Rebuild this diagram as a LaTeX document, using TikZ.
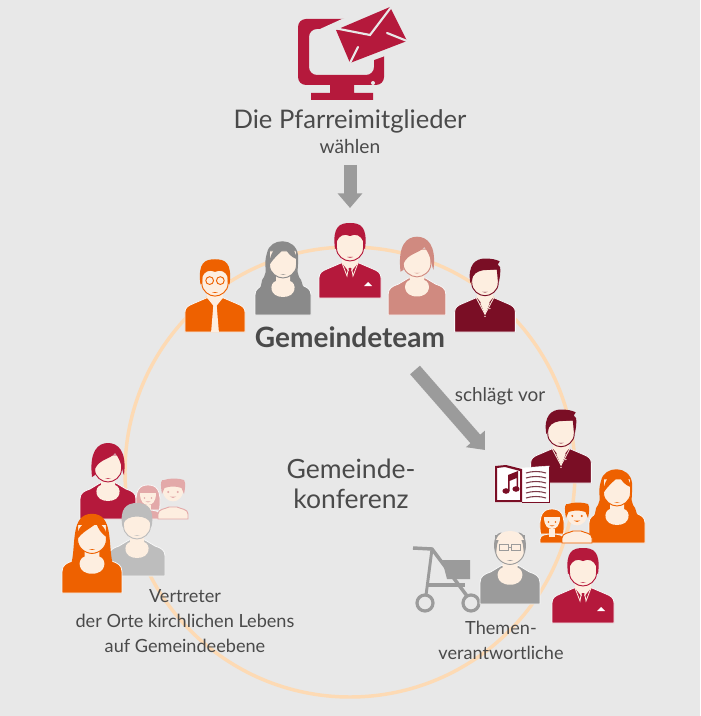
\documentclass[tikz,border=0pt]{standalone}
\usepackage{fontspec}
\setmainfont{Lato}
\usetikzlibrary{arrows.meta}
\definecolor{backc}{HTML}{E8E8E8}
\definecolor{ringc}{HTML}{FDDAB4}
\definecolor{crimsonc}{HTML}{B5193C}
\definecolor{orangec}{HTML}{EE6100}
\definecolor{darkredc}{HTML}{7A0E25}
\definecolor{grayc}{HTML}{8A8A8A}
\definecolor{midgrayc}{HTML}{9B9B9B}
\definecolor{lightgrayc}{HTML}{BDBDBD}
\definecolor{pinkc}{HTML}{D08A80}
\definecolor{palec}{HTML}{E3A9A9}
\definecolor{skinc}{HTML}{FDEEE0}
\definecolor{inkc}{HTML}{4A4A4A}
\tikzset{
  bust/.style={fill=bustc,draw=white!70!backc,line width=0.6pt,line join=round},
  skin/.style={fill=skinc,draw=bustc,line width=0.7pt},
  fineline/.style={draw=skinc,line width=0.6pt},
  bigarrow/.style={draw=midgrayc,line width=9.75pt,-{Triangle[width=18pt,length=11pt]}},
  label/.style={text=inkc,font=\fontsize{13.6}{18.7}\selectfont,align=center},
}
% shirts
\newcommand{\manshirt}{\path[bust] (-31,0) -- (-31,-20) .. controls (-31,-25) and (-28,-27) .. (-23,-29) -- (-9,-35) -- (9,-35) -- (23,-29) .. controls (28,-27) and (31,-25) .. (31,-20) -- (31,0) -- cycle;}
\newcommand{\womanshirt}{\path[bust] (-28,0) -- (-28,-20) .. controls (-28,-26) and (-24,-28) .. (-18,-30) -- (-8,-36) -- (8,-36) -- (18,-30) .. controls (24,-28) and (28,-26) .. (28,-20) -- (28,0) -- cycle;}
% faces
\newcommand{\manface}{\path[skin] (-13.5,-64) -- (-13.5,-50) .. controls (-13.5,-42) and (-6,-37) .. (0,-37) .. controls (6,-37) and (13.5,-42) .. (13.5,-50) -- (13.5,-64) -- cycle;
  \fill[bustc] (-3,-41) .. controls (-1,-40) and (1,-40) .. (3,-41) -- cycle;}
\newcommand{\roundneck}{\fill[skinc] (-7,-42) -- (-7,-34) .. controls (-14,-32) and (-14,-18) .. (0,-18) .. controls (14,-18) and (14,-32) .. (7,-34) -- (7,-42) -- cycle;}
\newcommand{\vneck}{\fill[skinc] (-8,-42) -- (-8,-35) -- (0,-25) -- (8,-35) -- (8,-42) -- cycle;}
% hair
\newcommand{\hairshort}{\path[fill=bustc] (-15,-49) .. controls (-18,-72) and (-10,-75) .. (0,-75) .. controls (10,-75) and (18,-72) .. (15,-49) -- (13.5,-50) -- (13,-57) .. controls (11,-62) and (6,-65) .. (0,-62) .. controls (-6,-65) and (-11,-62) .. (-13,-57) -- (-13.5,-50) -- cycle;}
\newcommand{\hairspiky}{\path[fill=bustc] (-15,-50) .. controls (-18,-68) and (-10,-75) .. (0,-75) .. controls (6,-75) and (12,-74) .. (15,-72) -- (13,-69) -- (15.5,-66) .. controls (16,-60) and (15,-55) .. (14,-50) -- (13,-54) -- (12,-64) -- (-2,-63) .. controls (-8,-62) and (-13,-59) .. (-13.5,-52) -- cycle;}
\newcommand{\hairbob}{\path[fill=bustc] (-16,-42) .. controls (-19,-68) and (-10,-76) .. (0,-76) .. controls (10,-76) and (19,-68) .. (16,-44) .. controls (14,-47) and (14,-58) .. (7,-66) .. controls (3,-60) and (-9,-60) .. (-13,-50) -- (-13,-44) -- cycle;}
\newcommand{\hairlong}{\path[fill=bustc] (-27,-14) .. controls (-24,-20) and (-28,-22) .. (-24,-26) .. controls (-20,-30) and (-23,-34) .. (-19,-38) .. controls (-15,-44) and (-20,-50) .. (-16,-62) .. controls (-13,-78) and (13,-78) .. (15,-60) .. controls (16,-50) and (13,-44) .. (16,-38) .. controls (20,-34) and (18,-30) .. (22,-26) .. controls (26,-22) and (24,-20) .. (27,-14) -- cycle;}
\newcommand{\hairlongfront}{\path[fill=bustc] (-13.5,-50) .. controls (-14,-74) and (12,-76) .. (13.5,-56) .. controls (8,-58) and (4,-62) .. (2,-68) .. controls (-2,-62) and (-9,-58) .. (-13.5,-50) -- cycle;}
\newcommand{\hairstraight}{\path[fill=bustc] (-19,-29) .. controls (-15,-46) and (-20,-74) .. (0,-74) .. controls (20,-74) and (15,-46) .. (19,-29) -- (10,-22) -- (-10,-22) -- cycle;}
\newcommand{\hairstraightfront}{\path[fill=bustc] (-14,-50) .. controls (-15,-72) and (13,-72) .. (14,-52) .. controls (8,-56) and (6,-60) .. (4,-65) .. controls (-2,-60) and (-8,-58) .. (-14,-50) -- cycle;}
% man and woman, at the middle of their base
\newcommand{\personman}[6]{\begin{scope}[shift={(#1,#2)},scale=#3]\colorlet{bustc}{#4}
  \manshirt#5\vneck\manface#6\end{scope}}
\newcommand{\personwoman}[6]{\begin{scope}[shift={(#1,#2)},scale=#3]\colorlet{bustc}{#4}
  \womanshirt#5\roundneck\manface#6\end{scope}}
% details on the shirts
\newcommand{\suitdetail}{\hairshort\fill[bustc] (-2,-30) -- (2,-30) -- (1,-27) -- (2.5,-15) -- (0,-12) -- (-2.5,-15) -- (-1,-27) -- cycle;
  \draw[fineline] (-8,-35) -- (-3,-22) -- (-1.5,-31); \draw[fineline] (8,-35) -- (3,-22) -- (1.5,-31);
  \fill[white] (14,-12) -- (18,-16) -- (22,-12) -- cycle;}
\newcommand{\glassdetail}{\hairshort\fill[skinc] (-1.5,-30) -- (1.5,-30) -- (4,0) -- (-4,0) -- cycle;
  \draw[bustc,line width=0.7pt] (-5.5,-53) circle (4) (5.5,-53) circle (4);}
\newcommand{\polodetail}{\hairspiky\fill[skinc] (-5,-30) -- (0,-18) -- (5,-30) -- cycle;
  \draw[fineline] (-9,-35) -- (0,-18) -- (9,-35);
  \fill[skinc] (0,-16) circle (0.8) (5,-24) circle (0.8);}
\newcommand{\baldhair}{\fill[bustc] (-14,-48) .. controls (-17,-60) and (-12,-67) .. (-8,-67) -- (-12,-56) -- (-13,-48) -- cycle;
  \fill[bustc] (14,-48) .. controls (17,-60) and (12,-67) .. (8,-67) -- (12,-56) -- (13,-48) -- cycle;
  \fill[skinc] (-13,-60) .. controls (-10,-71) and (10,-71) .. (13,-60) -- cycle;
  \draw[bustc,line width=0.8pt] (-10,-56) rectangle (-1.5,-50) (1.5,-56) rectangle (10,-50) (-1.5,-53) -- (1.5,-53);}
\newcommand{\greyhair}{\path[fill=bustc] (-14.5,-49) .. controls (-18,-68) and (-10,-73) .. (0,-73) .. controls (10,-73) and (18,-68) .. (14.5,-49) -- (13.5,-52) .. controls (12,-62) and (-12,-62) .. (-13.5,-52) -- cycle;}
% child faces and children, at the middle of their base
\newcommand{\kidface}[2]{\begin{scope}[shift={(0,#1)},scale=#2]
  \fill[skinc] (-8,-8) .. controls (-8,1) and (-4,4) .. (0,4) .. controls (4,4) and (8,1) .. (8,-8) -- cycle;
  \fill[bustc] (-3.5,-3) circle (0.8) (3.5,-3) circle (0.8) (-2.5,0.4) .. controls (-1,1.8) and (1,1.8) .. (2.5,0.4) -- cycle;\end{scope}}
\newcommand{\girl}[4]{\begin{scope}[shift={(#1,#2)},scale=#3]\colorlet{bustc}{#4}
  \path[bust] (-11.5,-9) .. controls (-14,-30) and (-8,-34) .. (0,-34) .. controls (8,-34) and (14,-30) .. (11.5,-9) -- cycle;
  \path[bust] (-12,0) -- (-12,-4) .. controls (-12,-8) and (-6,-9) .. (0,-9) .. controls (6,-9) and (12,-8) .. (12,-4) -- (12,0) -- cycle;
  \fill[skinc] (-3,-14) rectangle (3,-6);\kidface{-18}{1}\fill[bustc] (-8,-26) -- (0,-30) -- (8,-26) -- (0,-29) -- cycle;\end{scope}}
\newcommand{\boy}[4]{\begin{scope}[shift={(#1,#2)},scale=#3]\colorlet{bustc}{#4}
  \path[skin,draw=bustc] (-15,0) -- (-15,-5) .. controls (-15,-10) and (-8,-10) .. (-4,-12) -- (4,-12) .. controls (8,-10) and (15,-10) .. (15,-5) -- (15,0) -- cycle;
  \kidface{-23}{1.35}
  \fill[bustc] (-11,-25) .. controls (-13,-36) and (-12,-40) .. (-9,-39) .. controls (-3,-41) and (5,-41) .. (11,-39) .. controls (13,-36) and (12,-30) .. (11,-25) -- (8.5,-31) .. controls (3,-33) and (-3,-33) .. (-8.5,-31) -- cycle;\end{scope}}
\begin{document}
\begin{tikzpicture}[x=0.75pt,y=0.75pt,yscale=-1,xscale=1]
\useasboundingbox (0,0) rectangle (700,716);
\fill[backc] (0,0) rectangle (700,716);

%Shape: Circle
\draw[ringc,line width=2.6pt] (350,472) circle (225);

%Shape: Monitor
\fill[crimsonc,even odd rule,rounded corners=6] (298,19) rectangle (384,85) (309,29) rectangle (374,75);
\fill[crimsonc] (330,84) rectangle (354,94) (311,93) rectangle (373,100);
\fill[backc] (373,83) circle (2);
\fill[backc] (320,29) -- (342,19) -- (390,4) -- (410,41) -- (385,56) -- (374,60) -- (350,66) -- cycle;
%Shape: Envelope
\fill[crimsonc] (336,30) -- (390,7) -- (407,41) -- (350,63) -- cycle;
\draw[backc,line width=1.6pt,line cap=round] (334,28) -- (370,35) -- (392,6) (350,63) -- (358,47) (387,33) -- (407,41);

% Text Node
\node[label,font=\fontsize{19.2}{22}\selectfont] (members) at (350,121) {Die Pfarreimitglieder};
% Text Node
\node[label,font=\fontsize{14.4}{17}\selectfont] (choose) at (350,147) {wählen};

%Straight Lines
\coordinate (choosefrom) at (350,165);
\coordinate (chooseto) at (350,208);
\draw[bigarrow] (choosefrom) -- (chooseto);

%Team
\personman{215}{332}{0.97}{orangec}{}{\glassdetail}
\personwoman{283}{315}{1}{grayc}{\hairlong}{\hairlongfront}
\personman{350}{298}{1}{crimsonc}{}{\suitdetail}
\personwoman{417}{315}{1.03}{pinkc}{}{\hairbob}
\personman{485}{332}{0.98}{darkredc}{}{\polodetail}

% Text Node
\node[font=\bfseries\fontsize{21}{25}\selectfont,text=inkc] (team) at (350,337) {Gemeindeteam};
% Text Node
\node[label,font=\fontsize{14.2}{17}\selectfont] (suggest) at (500,396) {schlägt vor};
% Text Node
\node[label,font=\fontsize{19.9}{22.5}\selectfont] (conference) at (351,484) {Gemeinde-\\konferenz};

%Straight Lines
\coordinate (suggestfrom) at (415,370);
\coordinate (suggestto) at (485,450);
\draw[bigarrow] (suggestfrom) -- (suggestto);

%Right group
\personman{561}{483}{0.98}{darkredc}{}{\polodetail}
%Shape: Book
\fill[white,draw=white!70!backc] (495,466) -- (522,468) -- (549,466) -- (549,502) -- (495,502) -- cycle;
\fill[darkredc,even odd rule] (495,466) -- (506,465) -- (522,469) -- (522,502) -- (495,502) -- cycle (497,468) -- (505,467) -- (520,471) -- (520,500) -- (497,500) -- cycle;
\draw[darkredc,line width=0.7pt] (522,502) -- (549,502) -- (549,467);
\fill[darkredc] (506,491) ellipse (3.6 and 2.8) (516,489) ellipse (3.6 and 2.8);
\fill[darkredc] (508,491) -- (508,475) -- (518,471) -- (518,489) -- (516.5,489) -- (516.5,478) -- (509.5,481) -- (509.5,491) -- cycle;
\foreach \yline in {473,478,483,488,493,498} {
  \draw[darkredc!60!gray,line width=0.8pt] (526,\yline) .. controls (532,{\yline-2}) and (540,{\yline-2}) .. (546,\yline);
}
\personwoman{617}{543}{1}{orangec}{\hairlong}{\hairlongfront}
\girl{552}{543}{1}{orangec}
\boy{577}{543}{1}{orangec}

%Shape: Rollator
\begin{scope}[midgrayc,line width=2.2pt]
\draw[line width=2.6pt] (413,548) -- (432,549) -- (470,600);
\draw (432,549) -- (425,603);
\draw[line width=3pt] (427,585) -- (465,585);
\fill (442,560) -- (470,560) -- (470,579) -- (447,579) -- cycle;
\draw[line width=2.4pt,fill=backc] (425,603) circle (8) (471,603) circle (8);
\end{scope}
\personwoman{510}{604}{1.07}{midgrayc}{}{\baldhair}
\personman{583}{623}{1}{crimsonc}{}{\suitdetail}

%Left group
\personwoman{108}{519}{1}{crimsonc}{}{\hairbob}
\girl{148}{519}{1}{palec}
\boy{173}{519}{1}{palec}
\personwoman{137}{576}{1}{lightgrayc}{}{\greyhair}
\personwoman{92}{593}{1.07}{orangec}{\hairstraight}{\hairstraightfront}

% Text Node
\node[label] (places) at (185,621) {Vertreter\\der Orte kirchlichen Lebens\\auf Gemeindeebene};
% Text Node
\node[label] (topics) at (501,640) {Themen-\\verantwortliche};

\end{tikzpicture}
\end{document}
